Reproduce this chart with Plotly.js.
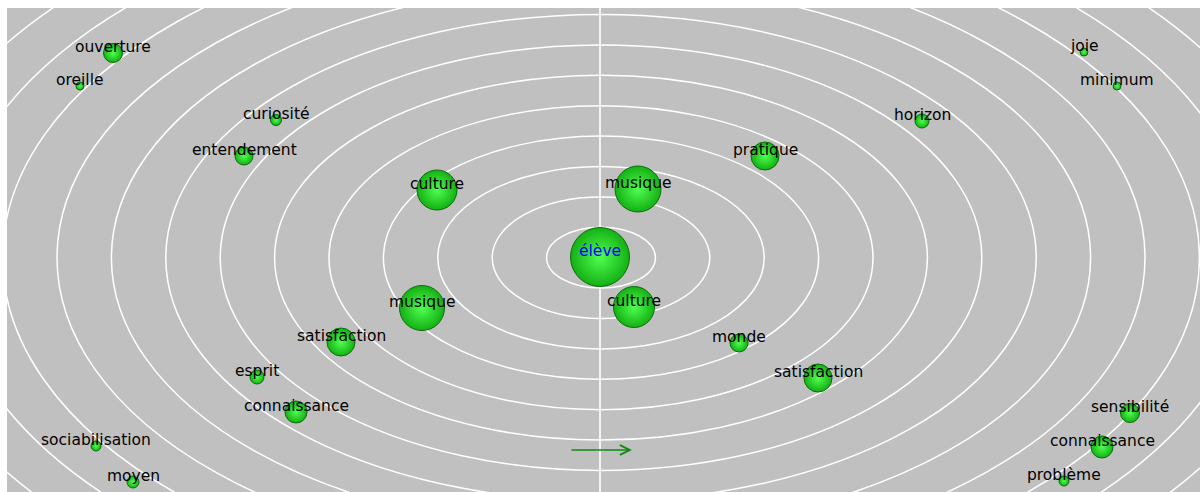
<!DOCTYPE html>
<html><head><meta charset="utf-8">
<script src="https://cdn.plot.ly/plotly-3.0.1.min.js"></script>
<style>html,body{margin:0;padding:0;background:#fff;overflow:hidden}</style>
</head><body><div id="chart" style="width:1200px;height:492px"></div>
<script>
// words, positions (chart coordinates = pixel-like units) and sphere sizes
const words = ["élève","musique","culture","culture","musique","satisfaction","esprit","connaissance",
  "sociabilisation","moyen","ouverture","oreille","curiosité","entendement","horizon","pratique",
  "monde","satisfaction","joie","minimum","sensibilité","connaissance","problème"];
const wordX = [600,638,634,437,422,341,257,296,96,133,113,80,276,244,922,765,739,818,1084,1117,1130,1102,1064];
const wordY = [257,189,307,190,308,342,377,412,446,482,53,86,120,156,121,156,343,378,52,86,413,447,481];
const sphereSize = [59,46,41,40,45,28,14,22,10,12,19,8,11,18,14,28,18,28,8,8,19,22,10];
const highlightWord = "élève";

// concentric ring indices
const rings = [1,2,3,4,5,6,7,8,9,10,11,12,13,14,15];
const ringCenter = {x: 601, y: 257.7};
const ringStep = {x: 54.4, y: 30.4};
const axisLineX = 600;
const arrowFrom = {x: 570, y: 450};
const arrowTo = {x: 632, y: 450};

const shapes = rings.map(n => ({
  type: 'circle', xref: 'x', yref: 'y', layer: 'below',
  x0: ringCenter.x - n * ringStep.x, x1: ringCenter.x + n * ringStep.x,
  y0: ringCenter.y - n * ringStep.y, y1: ringCenter.y + n * ringStep.y,
  line: {color: '#ffffff', width: 1.5}
}));
shapes.push({type: 'line', xref: 'x', yref: 'paper', layer: 'below',
  x0: axisLineX, x1: axisLineX, y0: 0, y1: 1, line: {color: '#f4f4f4', width: 2}});

const annotations = words.map((w, i) => ({
  x: wordX[i], y: wordY[i], text: w, showarrow: false, yshift: 6.5,
  xanchor: 'center', yanchor: 'middle',
  font: {family: 'DejaVu Sans', size: 15.5, color: w === highlightWord ? '#0000ff' : '#000000'}
}));
annotations.push({
  x: arrowTo.x, y: arrowTo.y, ax: arrowFrom.x, ay: arrowFrom.y,
  xref: 'x', yref: 'y', axref: 'x', ayref: 'y', text: '', showarrow: true,
  arrowhead: 5, arrowsize: 1.3, arrowwidth: 1.5, arrowcolor: '#108a10', standoff: 0
});

const trace = {
  type: 'scatter', mode: 'markers', x: wordX, y: wordY, hoverinfo: 'skip',
  marker: {
    size: sphereSize, color: '#14b014',
    gradient: {type: 'radial', color: '#50ff50'},
    line: {color: '#0b6e0b', width: 1}, opacity: 1
  }
};

const layout = {
  width: 1200, height: 492, autosize: false,
  margin: {l: 7, r: 0, t: 8, b: 0, pad: 0},
  paper_bgcolor: '#ffffff', plot_bgcolor: '#c0c0c0',
  showlegend: false,
  xaxis: {range: [7, 1200], visible: false, showgrid: false, zeroline: false, fixedrange: true},
  yaxis: {range: [492, 8], visible: false, showgrid: false, zeroline: false, fixedrange: true},
  shapes: shapes, annotations: annotations
};
Plotly.newPlot('chart', [trace], layout, {staticPlot: true, displayModeBar: false});
</script></body></html>
